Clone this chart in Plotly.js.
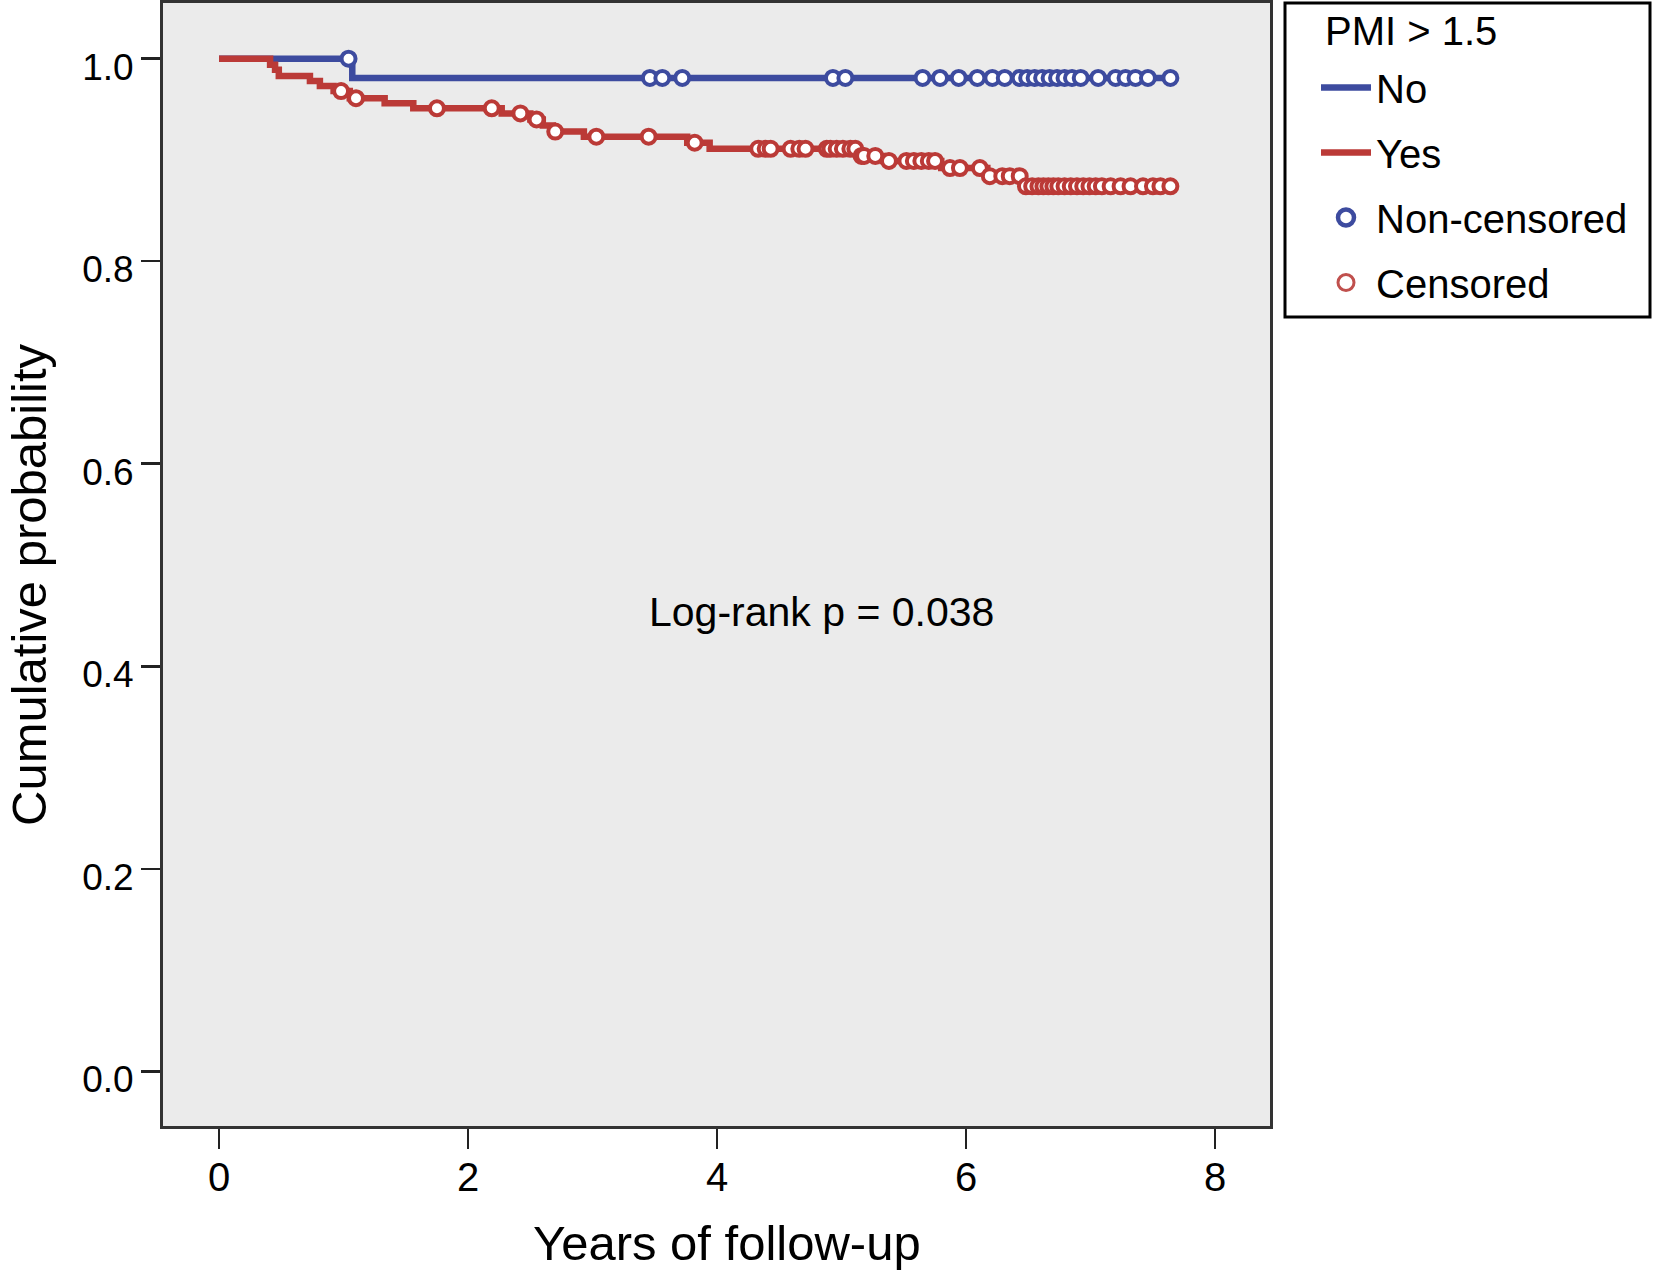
<!DOCTYPE html>
<html>
<head>
<meta charset="utf-8">
<script src="https://cdn.plot.ly/plotly-3.0.1.min.js"></script>
<style>html,body{margin:0;padding:0;background:#fff;}</style>
</head>
<body>
<div id="chart" style="width:1653px;height:1270px;"></div>
<script>
// ---- data ----
// "No" group (PMI > 1.5 = No): step times and survival after each step
const noStepTimes = [0, 1.07];
const noStepSurv  = [1.0, 0.981];
const noCensored  = [1.04, 3.46, 3.56, 3.72, 4.93, 5.03, 5.65, 5.79, 5.94, 6.09, 6.21, 6.31,
                     6.43, 6.49, 6.55, 6.61, 6.67, 6.73, 6.79, 6.85, 6.92, 7.06, 7.20, 7.28,
                     7.36, 7.46, 7.64];

// "Yes" group
const yesStepTimes = [0, 0.41, 0.45, 0.48, 0.73, 0.81, 0.92, 1.05, 1.33, 1.56, 2.27, 2.50,
                      2.60, 2.68, 2.93, 3.76, 3.94, 5.14, 5.33, 5.80, 6.17, 6.45];
const yesStepSurv  = [1.0, 0.994, 0.989, 0.983, 0.978, 0.973, 0.968, 0.961, 0.956, 0.951,
                      0.946, 0.940, 0.934, 0.928, 0.923, 0.917, 0.911, 0.904, 0.899, 0.892,
                      0.884, 0.874];
const yesCensored  = [0.98, 1.10, 1.75, 2.19, 2.42, 2.55, 2.70, 3.03, 3.45, 3.82, 4.33, 4.39,
                      4.43, 4.59, 4.66, 4.71, 4.88, 4.91, 4.96, 5.01, 5.07, 5.11, 5.16, 5.18,
                      5.27, 5.38, 5.52, 5.58, 5.64, 5.70, 5.75, 5.87, 5.95, 6.11, 6.19, 6.29,
                      6.35, 6.43, 6.48, 6.53, 6.58, 6.62, 6.66, 6.70, 6.74, 6.79, 6.84, 6.89,
                      6.94, 6.99, 7.04, 7.09, 7.16, 7.24, 7.32, 7.42, 7.50, 7.56, 7.64];

const xTickVals = [0, 2, 4, 6, 8];
const yTickVals = [0.0, 0.2, 0.4, 0.6, 0.8, 1.0];
const xTitle = 'Years of follow-up';
const yTitle = 'Cumulative probability';
const legendTitle = 'PMI &gt; 1.5';
const groupNames = ['No', 'Yes'];
const censorNames = ['Non-censored', 'Censored'];
const annotText = 'Log-rank p = 0.038';
const annotPos = {x: 4.84, y: 0.454};

// ---- helpers ----
function survAt(times, surv, t) {
  let s = surv[0];
  for (let i = 0; i < times.length; i++) { if (times[i] <= t) s = surv[i]; }
  return s;
}
function stepLine(times, surv, censored) {
  const end = Math.max(...censored);
  return {x: times.concat([end]), y: surv.concat([surv[surv.length - 1]])};
}

const BLUE = '#3d4b9f';
const RED = '#bb3a37';
const FONT = 'Liberation Sans, Arial, Helvetica, sans-serif';

const noLine = stepLine(noStepTimes, noStepSurv, noCensored);
const yesLine = stepLine(yesStepTimes, yesStepSurv, yesCensored);

const traces = [
  {x: noLine.x, y: noLine.y, type: 'scatter', mode: 'lines', name: groupNames[0],
   line: {color: BLUE, width: 6.5, shape: 'hv'}, legendgroup: 'a', legendrank: 1},
  {x: yesLine.x, y: yesLine.y, type: 'scatter', mode: 'lines', name: groupNames[1],
   line: {color: RED, width: 6.5, shape: 'hv'}, legendgroup: 'b', legendrank: 2},
  {x: noCensored, y: noCensored.map(t => survAt(noStepTimes, noStepSurv, t)),
   type: 'scatter', mode: 'markers', showlegend: false, hoverinfo: 'x+y',
   marker: {symbol: 'circle', size: 14, color: '#ffffff', line: {color: BLUE, width: 4}}},
  {x: yesCensored, y: yesCensored.map(t => survAt(yesStepTimes, yesStepSurv, t)),
   type: 'scatter', mode: 'markers', showlegend: false, hoverinfo: 'x+y',
   marker: {symbol: 'circle', size: 14, color: '#ffffff', line: {color: RED, width: 4}}},
  {x: [null], y: [null], type: 'scatter', mode: 'markers', name: censorNames[0],
   legendgroup: 'c', legendrank: 3,
   marker: {symbol: 'circle-open', size: 24, color: BLUE, line: {width: 4.5}}},
  {x: [null], y: [null], type: 'scatter', mode: 'markers', name: censorNames[1],
   legendgroup: 'd', legendrank: 4,
   marker: {symbol: 'circle-open', size: 24, color: '#c0504d', line: {width: 3}}}
];

// plot area in pixels: left 163, right 1270, top 3, bottom 1126
const PX = {l: 163, r: 1270, t: 3, b: 1126};
const px2x = p => (p - PX.l) / (PX.r - PX.l);
const px2y = p => 1 - (p - PX.t) / (PX.b - PX.t);

const layout = {
  width: 1653, height: 1270,
  margin: {l: 163, r: 383, t: 3, b: 144},
  paper_bgcolor: '#ffffff',
  plot_bgcolor: '#ebebeb',
  font: {family: FONT, color: '#000000'},
  showlegend: true,
  legend: {
    x: px2x(1316), y: px2y(55), xanchor: 'left', yanchor: 'top',
    bgcolor: 'rgba(0,0,0,0)', borderwidth: 0,
    font: {family: FONT, size: 40, color: '#000'},
    traceorder: 'grouped', tracegroupgap: 10, itemwidth: 50
  },
  shapes: [{
    type: 'rect', xref: 'paper', yref: 'paper',
    x0: px2x(1285), x1: px2x(1650), y0: px2y(317), y1: px2y(3),
    line: {color: '#000', width: 3}, fillcolor: 'rgba(0,0,0,0)', layer: 'below'
  }],
  xaxis: {
    range: [-0.45, 8.44], tickmode: 'array', tickvals: xTickVals,
    ticks: 'outside', ticklen: 20, tickwidth: 2.5, tickcolor: '#222',
    showline: true, mirror: true, linecolor: '#333', linewidth: 3,
    showgrid: false, zeroline: false, ticklabelstandoff: -6,
    tickfont: {family: FONT, size: 40, color: '#000'},
    automargin: false
  },
  yaxis: {
    range: [-0.054, 1.055], tickmode: 'array', tickvals: yTickVals, tickformat: '.1f',
    ticks: 'outside', ticklen: 19, tickwidth: 2.5, tickcolor: '#222',
    showline: true, mirror: true, linecolor: '#333', linewidth: 3,
    showgrid: false, zeroline: false, ticklabelshift: 8,
    tickfont: {family: FONT, size: 37, color: '#000'},
    automargin: false
  },
  annotations: [{
    x: annotPos.x, y: annotPos.y, xref: 'x', yref: 'y', text: annotText, showarrow: false,
    xanchor: 'center', yanchor: 'middle', font: {family: FONT, size: 41, color: '#000'}
  }, {
    x: px2x(1323), y: px2y(31), xref: 'paper', yref: 'paper', text: legendTitle, showarrow: false,
    xanchor: 'left', yanchor: 'middle', font: {family: FONT, size: 40, color: '#000'}
  }, {
    x: px2x(727), y: px2y(1243), xref: 'paper', yref: 'paper', text: xTitle, showarrow: false,
    xanchor: 'center', yanchor: 'middle', font: {family: FONT, size: 49, color: '#000'}
  }, {
    x: px2x(29), y: px2y(585), xref: 'paper', yref: 'paper', text: yTitle, showarrow: false,
    textangle: -90, xanchor: 'center', yanchor: 'middle', font: {family: FONT, size: 49, color: '#000'}
  }]
};

Plotly.newPlot('chart', traces, layout, {displayModeBar: false, staticPlot: true});
</script>
</body>
</html>
